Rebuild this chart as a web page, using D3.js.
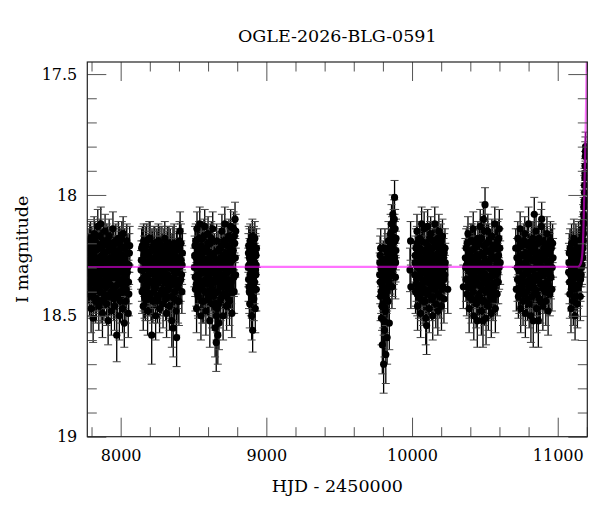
<!DOCTYPE html>
<html>
<head>
<meta charset="utf-8">
<script src="https://d3js.org/d3.v7.min.js"></script>
<style>
  html, body { margin: 0; padding: 0; background: #fff; }
  svg text { font-family: "DejaVu Serif", serif; fill: #000; }
</style>
</head>
<body>
<div id="chart"></div>
<script>
// photometry per observing season: [HJD - 2450000, I mag, error]
const season1 = [
  [7776,18.27,.08],[7779,18.36,.09],[7783,18.22,.08],[7786,18.41,.09],[7790,18.31,.08],[7793,18.18,.07],[7797,18.47,.10],[7800,18.29,.08],
  [7804,18.35,.09],[7807,18.24,.08],[7811,18.51,.10],[7814,18.33,.08],[7818,18.16,.07],[7821,18.39,.09],[7825,18.26,.08],[7829,18.44,.09],
  [7832,18.30,.08],[7836,18.20,.07],[7839,18.37,.09],[7843,18.13,.07],[7846,18.28,.08],[7850,18.46,.10],[7853,18.34,.08],[7857,18.22,.08],
  [7860,18.40,.09],[7864,18.12,.07],[7868,18.31,.08],[7871,18.25,.08],[7875,18.49,.10],[7878,18.36,.09],[7882,18.19,.07],[7885,18.43,.09],
  [7889,18.29,.08],[7893,18.15,.07],[7896,18.38,.09],[7900,18.27,.08],[7903,18.45,.09],[7907,18.32,.08],[7911,18.21,.08],[7914,18.52,.10],
  [7918,18.35,.09],[7921,18.17,.07],[7925,18.41,.09],[7929,18.26,.08],[7932,18.33,.08],[7936,18.48,.10],[7940,18.23,.08],[7943,18.30,.08],
  [7947,18.14,.07],[7951,18.39,.09],[7954,18.28,.08],[7958,18.46,.10],[7962,18.20,.07],[7965,18.34,.08],[7969,18.42,.09],[7973,18.58,.11],
  [7976,18.25,.08],[7980,18.37,.09],[7984,18.18,.07],[7987,18.31,.08],[7991,18.50,.10],[7995,18.27,.08],[7998,18.40,.09],[8002,18.22,.08],
  [8006,18.35,.09],[8010,18.29,.08],[8013,18.47,.10],[8017,18.16,.07],[8021,18.38,.09],[8025,18.53,.10],[8028,18.26,.08],[8032,18.33,.08],
  [8036,18.44,.09],[8040,18.21,.08],[8044,18.36,.09],[8048,18.30,.08],[8052,18.49,.10],[8056,18.41,.09],[8060,18.24,.08],
  [7778,18.30,.08],[7781,18.24,.08],[7785,18.38,.09],[7788,18.19,.07],[7792,18.33,.08],[7795,18.27,.08],[7799,18.42,.09],[7802,18.21,.08],
  [7806,18.31,.08],[7809,18.36,.09],[7813,18.25,.08],[7816,18.40,.09],[7820,18.29,.08],[7823,18.18,.07],[7827,18.34,.08],[7830,18.23,.08],
  [7834,18.43,.09],[7838,18.28,.08],[7841,18.35,.09],[7845,18.21,.08],[7848,18.31,.08],[7852,18.39,.09],[7855,18.26,.08],[7859,18.17,.07],
  [7862,18.32,.08],[7866,18.44,.09],[7869,18.22,.08],[7873,18.30,.08],[7877,18.37,.09],[7880,18.27,.08],[7884,18.20,.07],[7887,18.41,.09],
  [7891,18.33,.08],[7894,18.24,.08],[7898,18.30,.08],[7901,18.38,.09],[7905,18.19,.07],[7909,18.27,.08],[7912,18.35,.09],[7916,18.42,.09],
  [7919,18.23,.08],[7923,18.31,.08],[7927,18.37,.09],[7930,18.20,.07],[7934,18.29,.08],[7938,18.40,.09],[7941,18.26,.08],[7945,18.34,.08],
  [7949,18.22,.08],[7952,18.43,.09],[7956,18.31,.08],[7960,18.25,.08],[7963,18.38,.09],[7967,18.19,.07],[7971,18.33,.08],[7974,18.27,.08],
  [7978,18.41,.09],[7982,18.30,.08],[7985,18.23,.08],[7989,18.36,.09],[7993,18.20,.07],[7997,18.32,.08],[8000,18.44,.09],[8004,18.28,.08],
  [8008,18.18,.07],[8012,18.37,.09],[8015,18.25,.08],[8019,18.31,.08],[8023,18.40,.09],[8027,18.22,.08],[8030,18.34,.08],[8034,18.28,.08],
  [8038,18.39,.09],[8042,18.19,.07],[8046,18.32,.08],[8050,18.24,.08],[8054,18.36,.09],[8058,18.29,.08],[8062,18.21,.08]
];
const season2 = [
  [8140,18.31,.08],[8144,18.22,.08],[8147,18.40,.09],[8151,18.27,.08],[8155,18.46,.10],[8158,18.19,.07],[8162,18.34,.08],[8166,18.28,.08],
  [8170,18.43,.09],[8173,18.21,.08],[8177,18.37,.09],[8181,18.30,.08],[8185,18.48,.10],[8188,18.25,.08],[8192,18.33,.08],[8196,18.18,.07],
  [8200,18.41,.09],[8202,18.18,.07],[8206,18.29,.08],[8210,18.36,.09],[8213,18.58,.12],[8217,18.23,.08],[8221,18.44,.09],[8225,18.31,.08],
  [8229,18.20,.07],[8232,18.38,.09],[8236,18.27,.08],[8240,18.50,.10],[8244,18.34,.08],[8248,18.22,.08],[8252,18.42,.09],[8255,18.29,.08],
  [8259,18.19,.07],[8263,18.36,.09],[8267,18.47,.10],[8271,18.25,.08],[8275,18.32,.08],[8279,18.40,.09],[8283,18.21,.08],[8287,18.30,.08],
  [8291,18.45,.10],[8295,18.26,.08],[8299,18.35,.09],[8303,18.18,.07],[8307,18.41,.09],[8311,18.28,.08],[8315,18.49,.10],[8319,18.23,.08],
  [8323,18.33,.08],[8327,18.39,.09],[8331,18.20,.07],[8335,18.46,.10],[8339,18.30,.08],[8343,18.25,.08],[8347,18.37,.09],[8351,18.52,.11],
  [8355,18.28,.08],[8359,18.21,.08],[8361,18.55,.12],[8365,18.34,.08],[8369,18.43,.09],[8373,18.26,.08],[8377,18.31,.08],[8381,18.48,.10],
  [8384,18.59,.12],[8388,18.22,.08],[8392,18.38,.09],[8396,18.29,.08],[8400,18.44,.10],[8404,18.19,.08],[8408,18.15,.08],[8412,18.35,.09],
  [8416,18.27,.08],[8420,18.40,.09],[8424,18.24,.08],
  [8142,18.27,.08],[8146,18.35,.09],[8149,18.21,.08],[8153,18.31,.08],[8157,18.39,.09],[8160,18.25,.08],[8164,18.42,.09],[8168,18.30,.08],
  [8171,18.23,.08],[8175,18.34,.08],[8179,18.19,.07],[8183,18.38,.09],[8187,18.28,.08],[8190,18.41,.09],[8194,18.24,.08],[8198,18.32,.08],
  [8204,18.26,.08],[8208,18.43,.09],[8211,18.30,.08],[8215,18.22,.08],[8219,18.36,.09],[8223,18.27,.08],[8227,18.40,.09],[8230,18.33,.08],
  [8234,18.21,.08],[8238,18.29,.08],[8242,18.38,.09],[8246,18.25,.08],[8250,18.32,.08],[8253,18.44,.09],[8257,18.23,.08],[8261,18.30,.08],
  [8265,18.35,.09],[8269,18.20,.07],[8273,18.41,.09],[8277,18.27,.08],[8281,18.33,.08],[8285,18.24,.08],[8289,18.39,.09],[8293,18.31,.08],
  [8297,18.22,.08],[8301,18.36,.09],[8305,18.28,.08],[8309,18.43,.09],[8313,18.25,.08],[8317,18.33,.08],[8321,18.20,.07],[8325,18.30,.08],
  [8329,18.38,.09],[8333,18.26,.08],[8337,18.35,.09],[8341,18.22,.08],[8345,18.42,.09],[8349,18.29,.08],[8353,18.24,.08],[8357,18.37,.09],
  [8363,18.31,.08],[8367,18.20,.08],[8371,18.40,.09],[8375,18.28,.08],[8379,18.35,.09],[8383,18.23,.08],[8386,18.32,.08],[8390,18.26,.08],
  [8394,18.44,.09],[8398,18.30,.08],[8402,18.36,.09],[8406,18.22,.08],[8410,18.28,.08],[8414,18.20,.08],[8418,18.33,.08],[8422,18.29,.08]
];
const season3 = [
  [8506,18.30,.08],[8510,18.21,.08],[8513,18.39,.09],[8517,18.26,.08],[8521,18.47,.10],[8524,18.14,.07],[8528,18.33,.08],[8532,18.42,.09],
  [8536,18.23,.08],[8539,18.36,.09],[8543,18.12,.07],[8547,18.29,.08],[8551,18.50,.10],[8554,18.25,.08],[8558,18.38,.09],[8562,18.18,.07],
  [8566,18.32,.08],[8570,18.44,.09],[8573,18.27,.08],[8577,18.13,.07],[8581,18.35,.09],[8585,18.48,.10],[8589,18.22,.08],[8593,18.30,.08],
  [8597,18.41,.09],[8600,18.16,.07],[8604,18.34,.08],[8608,18.26,.08],[8612,18.52,.11],[8616,18.20,.08],[8620,18.37,.09],[8624,18.29,.08],
  [8628,18.45,.10],[8632,18.14,.07],[8636,18.31,.08],[8640,18.40,.09],[8644,18.24,.08],[8648,18.55,.12],[8652,18.33,.08],[8656,18.61,.12],
  [8659,18.19,.07],[8663,18.47,.10],[8667,18.58,.12],[8671,18.28,.08],[8675,18.53,.11],[8679,18.36,.09],[8683,18.22,.08],[8687,18.43,.09],
  [8691,18.30,.08],[8695,18.15,.07],[8699,18.38,.09],[8703,18.50,.10],[8707,18.25,.08],[8711,18.34,.08],[8715,18.12,.07],[8719,18.41,.09],
  [8723,18.27,.08],[8727,18.46,.10],[8731,18.21,.08],[8735,18.32,.08],[8739,18.39,.09],[8743,18.17,.07],[8747,18.44,.10],[8751,18.28,.08],
  [8755,18.13,.07],[8759,18.36,.09],[8763,18.49,.10],[8767,18.24,.08],[8771,18.31,.08],[8775,18.14,.07],[8779,18.40,.09],[8783,18.20,.08],
  [8785,18.10,.07],[8789,18.33,.08],
  [8508,18.25,.08],[8512,18.34,.08],[8515,18.19,.07],[8519,18.37,.09],[8523,18.28,.08],[8526,18.22,.08],[8530,18.41,.09],[8534,18.30,.08],
  [8538,18.18,.07],[8541,18.33,.08],[8545,18.26,.08],[8549,18.39,.09],[8552,18.21,.08],[8556,18.31,.08],[8560,18.44,.09],[8564,18.24,.08],
  [8568,18.36,.09],[8571,18.17,.07],[8575,18.29,.08],[8579,18.40,.09],[8583,18.23,.08],[8587,18.32,.08],[8591,18.27,.08],[8595,18.37,.09],
  [8598,18.20,.07],[8602,18.43,.09],[8606,18.30,.08],[8610,18.24,.08],[8614,18.35,.09],[8618,18.28,.08],[8622,18.18,.07],[8626,18.39,.09],
  [8630,18.32,.08],[8634,18.25,.08],[8638,18.42,.09],[8642,18.29,.08],[8646,18.36,.09],[8650,18.46,.10],[8654,18.27,.08],[8658,18.50,.10],
  [8661,18.34,.08],[8665,18.40,.09],[8669,18.23,.08],[8673,18.45,.10],[8677,18.31,.08],[8681,18.38,.09],[8685,18.26,.08],[8689,18.35,.09],
  [8693,18.21,.08],[8697,18.33,.08],[8701,18.28,.08],[8705,18.41,.09],[8709,18.19,.07],[8713,18.30,.08],[8717,18.37,.09],[8721,18.24,.08],
  [8725,18.32,.08],[8729,18.42,.09],[8733,18.26,.08],[8737,18.18,.07],[8741,18.35,.09],[8745,18.29,.08],[8749,18.22,.08],[8753,18.38,.09],
  [8757,18.31,.08],[8761,18.19,.07],[8765,18.27,.08],[8769,18.40,.09],[8773,18.23,.08],[8777,18.34,.08],[8781,18.17,.07],[8787,18.26,.08],
  [8790,18.15,.07]
];
const season4 = [
  [8876,18.30,.08],[8879,18.21,.08],[8881,18.38,.09],[8884,18.26,.08],[8886,18.45,.10],[8889,18.19,.07],[8891,18.33,.08],[8894,18.41,.09],
  [8896,18.24,.08],[8899,18.50,.10],[8901,18.29,.08],[8904,18.17,.07],[8906,18.56,.09],[8909,18.35,.09],[8911,18.22,.08],[8914,18.43,.09],
  [8916,18.28,.08],[8919,18.36,.09],[8921,18.18,.07],[8924,18.47,.10],[8926,18.31,.08],[8929,18.25,.08],[8931,18.39,.09],
  [8877,18.24,.08],[8878,18.35,.09],[8880,18.29,.08],[8883,18.40,.09],[8885,18.22,.08],[8888,18.33,.08],[8890,18.27,.08],[8893,18.20,.07],
  [8895,18.37,.09],[8898,18.31,.08],[8900,18.42,.09],[8903,18.26,.08],[8905,18.34,.08],[8908,18.23,.08],[8910,18.30,.08],[8913,18.38,.09],
  [8915,18.21,.08],[8918,18.32,.08],[8920,18.28,.08],[8923,18.39,.09],[8925,18.24,.08],[8928,18.33,.08],[8930,18.29,.08],[8932,18.22,.08]
];
const season5 = [
  [9778,18.33,.09],[9781,18.25,.08],[9784,18.42,.10],[9787,18.30,.08],[9790,18.51,.11],[9793,18.37,.09],[9796,18.62,.12],[9799,18.28,.08],
  [9802,18.45,.10],[9805,18.70,.12],[9808,18.34,.09],[9811,18.56,.11],[9814,18.22,.08],[9817,18.48,.10],[9820,18.66,.12],[9823,18.31,.08],
  [9826,18.40,.09],[9829,18.59,.11],[9832,18.26,.08],[9835,18.44,.10],[9838,18.19,.08],[9841,18.36,.09],[9844,18.53,.11],[9847,18.24,.08],
  [9850,18.32,.09],[9853,18.16,.08],[9856,18.28,.08],[9859,18.12,.08],[9862,18.38,.09],[9865,18.21,.08],[9868,18.08,.08],[9871,18.30,.09],
  [9874,18.14,.08],[9877,18.25,.08],[9880,18.01,.07],[9883,18.19,.08],[9886,18.34,.09],[9889,18.23,.08],
  [9779,18.28,.08],[9782,18.36,.09],[9785,18.22,.08],[9788,18.40,.09],[9791,18.31,.08],[9794,18.46,.10],[9797,18.33,.09],[9800,18.39,.09],
  [9803,18.27,.08],[9806,18.52,.11],[9809,18.41,.10],[9812,18.30,.08],[9815,18.47,.10],[9818,18.35,.09],[9821,18.29,.08],[9824,18.43,.10],
  [9827,18.33,.09],[9830,18.24,.08],[9833,18.38,.09],[9836,18.30,.08],[9839,18.27,.08],[9842,18.34,.09],[9845,18.22,.08],[9848,18.29,.08],
  [9851,18.25,.08],[9854,18.31,.08],[9857,18.20,.08],[9860,18.27,.08],[9863,18.17,.08],[9866,18.33,.09],[9869,18.24,.08],[9872,18.19,.08],
  [9875,18.29,.08],[9878,18.10,.08],[9881,18.26,.08],[9884,18.14,.08],[9887,18.28,.08],[9890,18.18,.08]
];
const season6 = [
  [9986,18.31,.09],[9990,18.19,.08],[9992,18.38,.09],
  [10020,18.28,.08],[10024,18.40,.09],[10027,18.22,.08],[10031,18.35,.09],[10034,18.15,.07],[10038,18.46,.10],[10041,18.30,.08],[10045,18.25,.08],
  [10048,18.42,.09],[10052,18.18,.07],[10055,18.33,.08],[10059,18.49,.10],[10062,18.27,.08],[10066,18.12,.07],[10069,18.37,.09],[10073,18.23,.08],
  [10076,18.44,.10],[10080,18.31,.08],[10083,18.14,.07],[10087,18.39,.09],[10090,18.26,.08],[10094,18.51,.11],[10097,18.20,.08],[10100,18.54,.12],
  [10104,18.34,.08],[10107,18.13,.07],[10111,18.41,.09],[10114,18.28,.08],[10118,18.47,.10],[10121,18.22,.08],[10125,18.36,.09],[10128,18.16,.07],
  [10132,18.30,.08],[10135,18.43,.09],[10139,18.25,.08],[10142,18.50,.10],[10146,18.19,.07],[10149,18.33,.08],[10153,18.39,.09],[10156,18.12,.07],
  [10160,18.27,.08],[10163,18.45,.10],[10167,18.31,.08],[10170,18.21,.08],[10174,18.37,.09],[10177,18.48,.10],[10181,18.24,.08],[10184,18.15,.07],
  [10188,18.35,.09],[10191,18.42,.09],[10195,18.28,.08],[10198,18.20,.08],[10202,18.46,.10],[10205,18.32,.08],[10209,18.17,.07],[10212,18.38,.09],
  [10216,18.26,.08],[10219,18.43,.10],[10223,18.30,.08],[10226,18.22,.08],[10245,18.39,.10],
  [10018,18.33,.08],[10022,18.25,.08],[10026,18.37,.09],[10029,18.29,.08],[10033,18.20,.07],[10036,18.41,.09],[10040,18.24,.08],[10043,18.34,.08],
  [10047,18.28,.08],[10050,18.38,.09],[10054,18.22,.08],[10057,18.31,.08],[10061,18.43,.09],[10064,18.19,.07],[10068,18.30,.08],[10071,18.26,.08],
  [10075,18.35,.09],[10078,18.40,.09],[10082,18.23,.08],[10085,18.32,.08],[10089,18.44,.09],[10092,18.28,.08],[10096,18.36,.09],[10099,18.25,.08],
  [10102,18.41,.09],[10106,18.30,.08],[10109,18.21,.08],[10113,18.34,.08],[10116,18.27,.08],[10120,18.39,.09],[10123,18.18,.07],[10127,18.32,.08],
  [10130,18.24,.08],[10134,18.37,.09],[10137,18.29,.08],[10141,18.22,.08],[10144,18.42,.09],[10148,18.31,.08],[10151,18.26,.08],[10155,18.35,.09],
  [10158,18.20,.07],[10162,18.33,.08],[10165,18.38,.09],[10169,18.25,.08],[10172,18.30,.08],[10176,18.18,.07],[10179,18.41,.09],[10183,18.28,.08],
  [10186,18.34,.08],[10190,18.23,.08],[10193,18.37,.09],[10197,18.31,.08],[10200,18.26,.08],[10204,18.39,.09],[10207,18.22,.08],[10211,18.32,.08],
  [10214,18.29,.08],[10218,18.35,.09],[10221,18.24,.08],[10225,18.33,.08],[10228,18.28,.08]
];
const season7 = [
  [10352,18.38,.09],
  [10368,18.30,.08],[10372,18.22,.08],[10376,18.41,.09],[10380,18.27,.08],[10384,18.16,.07],[10388,18.35,.09],[10392,18.47,.10],[10396,18.25,.08],
  [10400,18.32,.08],[10404,18.19,.07],[10408,18.43,.10],[10412,18.29,.08],[10416,18.38,.09],[10420,18.14,.07],[10424,18.50,.10],[10428,18.26,.08],
  [10432,18.34,.08],[10436,18.21,.08],[10440,18.45,.10],[10444,18.31,.08],[10448,18.52,.11],[10452,18.18,.07],[10456,18.37,.09],[10460,18.28,.08],
  [10464,18.42,.09],[10468,18.13,.07],[10472,18.33,.08],[10476,18.48,.10],[10480,18.24,.08],[10484,18.39,.09],[10487,18.52,.11],[10490,18.10,.07],
  [10494,18.30,.08],[10497,18.44,.10],[10501,18.04,.07],[10504,18.27,.08],[10508,18.51,.11],[10512,18.20,.08],[10516,18.36,.09],[10520,18.15,.07],
  [10524,18.46,.10],[10528,18.29,.08],[10532,18.40,.09],[10536,18.23,.08],[10540,18.34,.08],[10544,18.49,.10],[10548,18.17,.07],[10552,18.31,.08],
  [10556,18.43,.09],[10560,18.26,.08],[10564,18.38,.09],[10568,18.12,.07],[10572,18.47,.10],[10576,18.33,.08],[10580,18.21,.08],[10584,18.41,.09],
  [10588,18.28,.08],[10592,18.36,.09],[10596,18.18,.08],[10599,18.14,.08],[10605,18.28,.09],
  [10366,18.26,.08],[10370,18.35,.09],[10374,18.29,.08],[10378,18.20,.07],[10382,18.38,.09],[10386,18.31,.08],[10390,18.24,.08],[10394,18.42,.09],
  [10398,18.28,.08],[10402,18.36,.09],[10406,18.23,.08],[10410,18.33,.08],[10414,18.19,.07],[10418,18.40,.09],[10422,18.30,.08],[10426,18.37,.09],
  [10430,18.22,.08],[10434,18.28,.08],[10438,18.35,.09],[10442,18.25,.08],[10446,18.43,.09],[10450,18.31,.08],[10454,18.26,.08],[10458,18.41,.09],
  [10462,18.20,.07],[10466,18.34,.08],[10470,18.29,.08],[10474,18.38,.09],[10478,18.18,.07],[10482,18.32,.08],[10486,18.44,.09],[10489,18.25,.08],
  [10492,18.36,.09],[10495,18.21,.08],[10499,18.15,.07],[10503,18.33,.08],[10506,18.40,.09],[10510,18.28,.08],[10514,18.23,.08],[10518,18.30,.08],
  [10522,18.38,.09],[10526,18.19,.07],[10530,18.34,.08],[10534,18.27,.08],[10538,18.42,.09],[10542,18.24,.08],[10546,18.31,.08],[10550,18.37,.09],
  [10554,18.21,.08],[10558,18.33,.08],[10562,18.40,.09],[10566,18.26,.08],[10570,18.30,.08],[10574,18.22,.08],[10578,18.36,.09],[10582,18.28,.08],
  [10586,18.19,.08],[10590,18.32,.08],[10594,18.25,.08],[10598,18.30,.09],[10602,18.22,.08]
];
const season8 = [
  [10712,18.22,.08],[10716,18.39,.09],
  [10722,18.30,.08],[10726,18.18,.07],[10730,18.42,.09],[10734,18.26,.08],[10738,18.35,.09],[10742,18.14,.07],[10746,18.47,.10],[10750,18.29,.08],
  [10754,18.21,.08],[10758,18.38,.09],[10762,18.44,.10],[10766,18.25,.08],[10770,18.33,.08],[10774,18.16,.07],[10778,18.49,.10],[10782,18.28,.08],
  [10786,18.40,.09],[10790,18.20,.08],[10794,18.36,.09],[10798,18.31,.08],[10800,18.12,.07],[10804,18.45,.10],[10808,18.24,.08],[10812,18.34,.08],
  [10816,18.50,.11],[10820,18.19,.07],[10824,18.38,.09],[10828,18.27,.08],[10832,18.52,.11],[10836,18.22,.08],[10839,18.08,.07],[10843,18.41,.09],
  [10847,18.30,.08],[10851,18.15,.07],[10855,18.47,.10],[10859,18.26,.08],[10863,18.35,.09],[10867,18.52,.11],[10871,18.18,.07],[10875,18.43,.10],
  [10879,18.29,.08],[10883,18.37,.09],[10887,18.13,.07],[10890,18.10,.07],[10894,18.33,.08],[10898,18.46,.10],[10902,18.24,.08],[10906,18.39,.09],
  [10910,18.20,.08],[10914,18.31,.08],[10918,18.44,.10],[10922,18.27,.08],[10926,18.16,.07],[10930,18.36,.09],[10934,18.48,.10],[10938,18.23,.08],
  [10942,18.32,.08],[10946,18.41,.09],[10950,18.19,.08],[10954,18.34,.09],[10960,18.39,.09],[10965,18.20,.08],
  [10720,18.26,.08],[10724,18.35,.09],[10728,18.22,.08],[10732,18.31,.08],[10736,18.40,.09],[10740,18.28,.08],[10744,18.20,.07],[10748,18.37,.09],
  [10752,18.30,.08],[10756,18.25,.08],[10760,18.33,.08],[10764,18.41,.09],[10768,18.19,.07],[10772,18.29,.08],[10776,18.36,.09],[10780,18.24,.08],
  [10784,18.32,.08],[10788,18.27,.08],[10792,18.43,.09],[10796,18.21,.08],[10802,18.30,.08],[10806,18.38,.09],[10810,18.26,.08],[10814,18.34,.08],
  [10818,18.23,.08],[10822,18.42,.09],[10826,18.31,.08],[10830,18.18,.07],[10834,18.36,.09],[10838,18.27,.08],[10841,18.22,.08],[10845,18.39,.09],
  [10849,18.33,.08],[10853,18.25,.08],[10857,18.41,.09],[10861,18.29,.08],[10865,18.20,.07],[10869,18.35,.09],[10873,18.30,.08],[10877,18.24,.08],
  [10881,18.44,.09],[10885,18.32,.08],[10889,18.27,.08],[10892,18.19,.07],[10896,18.37,.09],[10900,18.30,.08],[10904,18.22,.08],[10908,18.33,.08],
  [10912,18.40,.09],[10916,18.25,.08],[10920,18.31,.08],[10924,18.36,.09],[10928,18.21,.08],[10932,18.28,.08],[10936,18.38,.09],[10940,18.30,.08],
  [10944,18.24,.08],[10948,18.34,.08],[10952,18.27,.08],[10956,18.22,.08],[10962,18.30,.08],[10968,18.26,.08]
];
const season9 = [
  [11075,18.32,.09],[11079,18.24,.08],[11083,18.41,.10],[11087,18.29,.08],[11091,18.47,.10],[11095,18.20,.08],[11099,18.36,.09],[11103,18.27,.08],
  [11107,18.44,.10],[11111,18.18,.08],[11115,18.33,.09],[11119,18.50,.10],[11123,18.25,.08],[11127,18.39,.09],[11131,18.22,.08],[11135,18.45,.10],
  [11139,18.30,.08],[11143,18.19,.08],[11147,18.37,.09],[11151,18.27,.08],[11155,18.42,.10],[11158,18.23,.08],[11161,18.33,.09],[11164,18.21,.08],
  [11167,18.29,.08],[11170,18.17,.08],[11173,18.22,.08],[11175,18.11,.07],[11177,18.16,.08],[11179,18.05,.07],[11181,18.09,.07],[11183,17.99,.07],
  [11185,18.02,.07],[11186,17.93,.06],[11188,17.88,.06],[11189,17.84,.06],[11191,17.80,.06],
  [11077,18.28,.08],[11081,18.36,.09],[11085,18.22,.08],[11089,18.33,.08],[11093,18.39,.09],[11097,18.26,.08],[11101,18.31,.08],[11105,18.23,.08],
  [11109,18.37,.09],[11113,18.29,.08],[11117,18.42,.09],[11121,18.31,.08],[11125,18.20,.08],[11129,18.34,.08],[11133,18.28,.08],[11137,18.38,.09],
  [11141,18.24,.08],[11145,18.32,.08],[11149,18.21,.08],[11153,18.30,.08],[11157,18.35,.09],[11160,18.26,.08],[11163,18.30,.08],[11166,18.24,.08],
  [11169,18.20,.08],[11172,18.26,.08],[11174,18.14,.07],[11176,18.19,.08],[11178,18.08,.07],[11180,18.12,.07],[11182,18.03,.07],[11184,17.96,.07],
  [11187,17.91,.06],[11190,17.82,.06]
];

// model light curve
const modelHjd = [7700, 11140, 11150, 11158, 11165, 11171, 11176, 11181, 11185, 11189, 11192, 11195, 11198, 11201, 11206];
const modelMag = [18.298, 18.297, 18.292, 18.283, 18.265, 18.225, 18.15, 18.03, 17.92, 17.80, 17.71, 17.61, 17.48, 17.36, 17.15];

const xMajorTicks = [8000, 9000, 10000, 11000];
const xMinorTicks = [7800, 8200, 8400, 8600, 8800, 9200, 9400, 9600, 9800, 10200, 10400, 10600, 10800, 11200];
const yMajorTicks = [17.5, 18, 18.5, 19];
const yMinorTicks = [17.6, 17.7, 17.8, 17.9, 18.1, 18.2, 18.3, 18.4, 18.6, 18.7, 18.8, 18.9];

const seasons = [season1, season2, season3, season4, season5, season6, season7, season8, season9];

const width = 600, height = 512;
const margin = { top: 62, right: 12.7, bottom: 75.3, left: 87.3 };
const fontFamily = '"DejaVu Serif", serif';

const svg = d3.select('#chart')
  .append('svg')
  .attr('width', width)
  .attr('height', height);

const x = d3.scaleLinear()
  .domain([7771, 11203])
  .range([margin.left, width - margin.right]);

const y = d3.scaleLinear()
  .domain([17.45, 19])
  .range([margin.top, height - margin.bottom]);

svg.append('defs').append('clipPath')
  .attr('id', 'plot-clip')
  .append('rect')
  .attr('x', margin.left)
  .attr('y', margin.top)
  .attr('width', width - margin.left - margin.right)
  .attr('height', height - margin.top - margin.bottom);

const plot = svg.append('g').attr('clip-path', 'url(#plot-clip)');
const points = seasons.flat();

// error bars
plot.append('g')
  .selectAll('line')
  .data(points)
  .join('line')
  .attr('x1', d => x(d[0]))
  .attr('x2', d => x(d[0]))
  .attr('y1', d => y(d[1] - d[2]))
  .attr('y2', d => y(d[1] + d[2]))
  .attr('stroke', '#000')
  .attr('stroke-width', 1.3);

plot.append('g')
  .selectAll('path')
  .data(points)
  .join('path')
  .attr('d', d => {
    const cx = x(d[0]), y1 = y(d[1] - d[2]), y2 = y(d[1] + d[2]);
    return `M${cx - 4},${y1}H${cx + 4}M${cx - 4},${y2}H${cx + 4}`;
  })
  .attr('fill', 'none')
  .attr('stroke', '#444')
  .attr('stroke-width', 1);

plot.append('g')
  .selectAll('circle')
  .data(points)
  .join('circle')
  .attr('cx', d => x(d[0]))
  .attr('cy', d => y(d[1]))
  .attr('r', 3.6)
  .attr('fill', '#000');

// model
const model = modelHjd.map((t, i) => [t, modelMag[i]]);
plot.append('path')
  .datum(model)
  .attr('d', d3.line().x(d => x(d[0])).y(d => y(d[1])).curve(d3.curveMonotoneX))
  .attr('fill', 'none')
  .attr('stroke', '#ff00ff')
  .attr('stroke-opacity', 0.55)
  .attr('stroke-width', 2.2);

// ticks on all four sides, pointing inward
const bottomY = height - margin.bottom;
const rightX = width - margin.right;

function tickLayer(axis, transform) {
  const g = svg.append('g')
    .attr('transform', transform)
    .call(axis)
    .attr('font-family', fontFamily)
    .attr('font-size', 16);
  g.select('.domain').remove();
  g.selectAll('.tick line').attr('stroke', '#555');
  g.selectAll('.tick text').attr('fill', '#000');
  return g;
}

tickLayer(d3.axisBottom(x).tickValues(xMajorTicks).tickSize(-19).tickPadding(13).tickFormat(d3.format('d')),
  `translate(0,${bottomY})`);
tickLayer(d3.axisBottom(x).tickValues(xMinorTicks).tickSize(-9.5).tickFormat(''), `translate(0,${bottomY})`);
tickLayer(d3.axisTop(x).tickValues(xMajorTicks).tickSize(-19).tickFormat(''), `translate(0,${margin.top})`);
tickLayer(d3.axisTop(x).tickValues(xMinorTicks).tickSize(-9.5).tickFormat(''), `translate(0,${margin.top})`);

tickLayer(d3.axisLeft(y).tickValues(yMajorTicks).tickSize(-19).tickPadding(10).tickFormat(d => String(d)),
  `translate(${margin.left},0)`);
tickLayer(d3.axisLeft(y).tickValues(yMinorTicks).tickSize(-9.5).tickFormat(''), `translate(${margin.left},0)`);
tickLayer(d3.axisRight(y).tickValues(yMajorTicks).tickSize(-19).tickFormat(''), `translate(${rightX},0)`);
tickLayer(d3.axisRight(y).tickValues(yMinorTicks).tickSize(-9.5).tickFormat(''), `translate(${rightX},0)`);

// frame
svg.append('rect')
  .attr('x', margin.left)
  .attr('y', margin.top)
  .attr('width', rightX - margin.left)
  .attr('height', bottomY - margin.top)
  .attr('fill', 'none')
  .attr('stroke', '#222')
  .attr('stroke-width', 1.2);

const cx = (margin.left + rightX) / 2;

svg.append('text')
  .attr('x', cx)
  .attr('y', 42)
  .attr('text-anchor', 'middle')
  .attr('font-size', 17.5)
  .text('OGLE-2026-BLG-0591');

svg.append('text')
  .attr('x', cx)
  .attr('y', 492)
  .attr('text-anchor', 'middle')
  .attr('font-size', 17.5)
  .text('HJD - 2450000');

svg.append('text')
  .attr('transform', `translate(28,${(margin.top + bottomY) / 2}) rotate(-90)`)
  .attr('text-anchor', 'middle')
  .attr('font-size', 17.5)
  .text('I magnitude');
</script>
</body>
</html>
